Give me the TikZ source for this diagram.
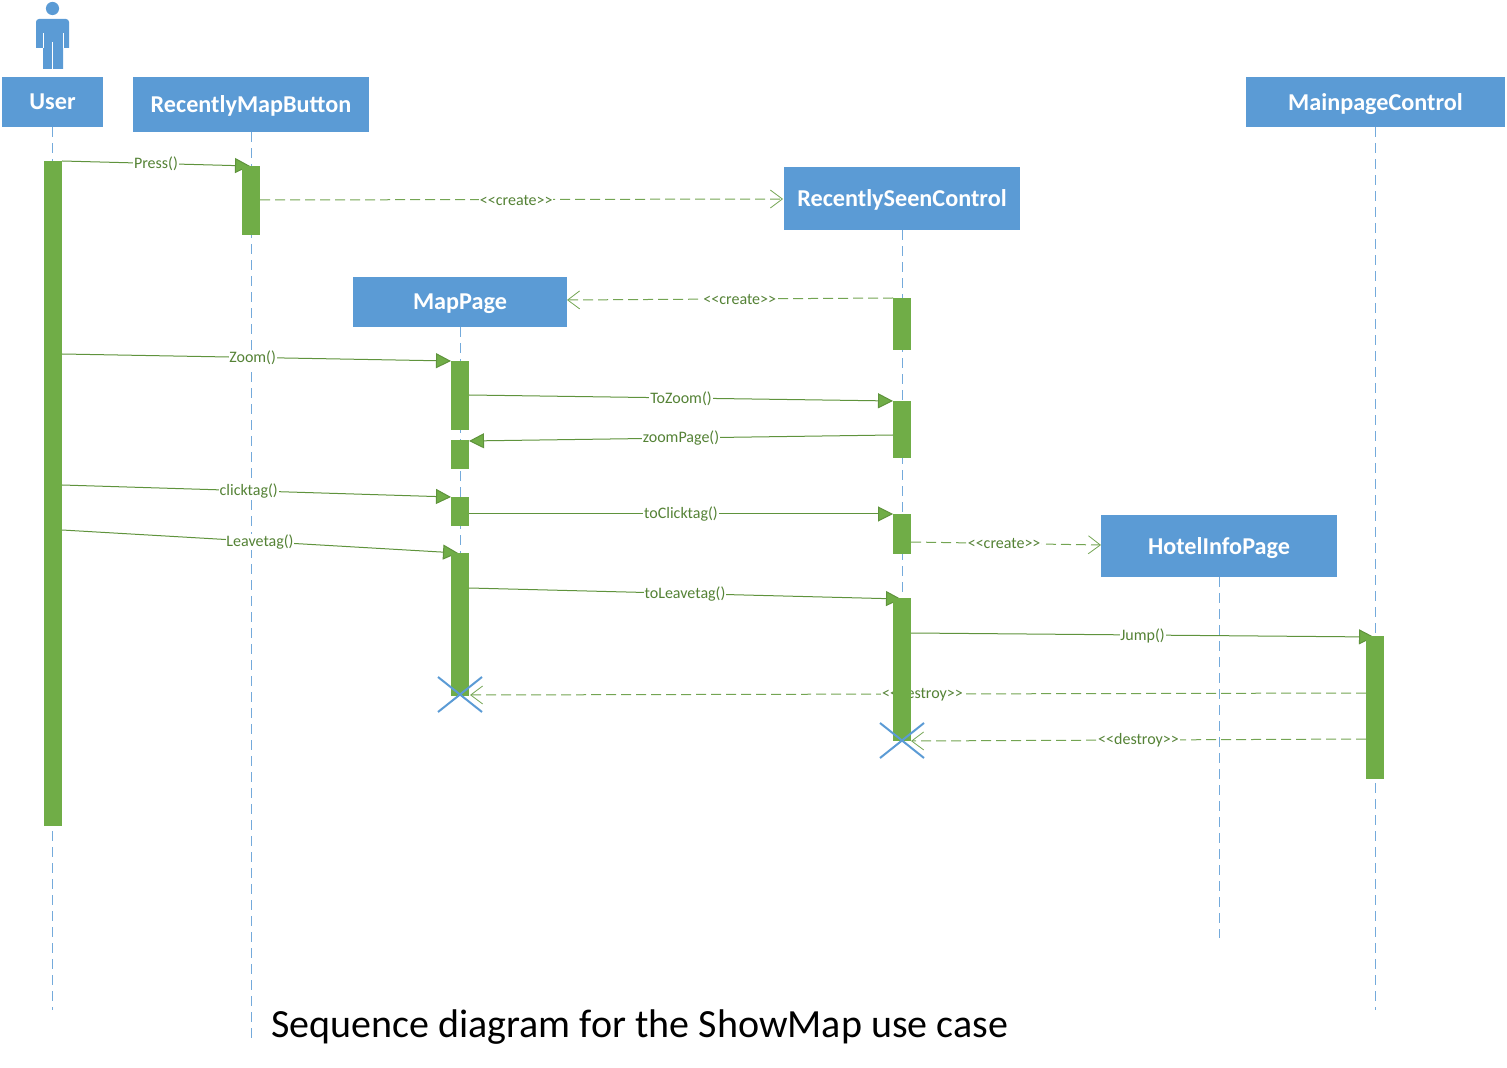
\documentclass[tikz,border=0pt]{standalone}
\usepackage{fontspec}
\setmainfont{Carlito}
\usetikzlibrary{arrows.meta}

\definecolor{headblue}{HTML}{5B9BD5}
\definecolor{bargreen}{HTML}{70AD47}
\definecolor{msgtext}{HTML}{548235}

\tikzset{
    headbox/.style={fill=headblue, text=white, inner sep=0pt, text depth=0pt, font=\fontsize{12.1}{14}\selectfont\bfseries},
    actbar/.style={fill=bargreen, inner sep=0pt, minimum width=9pt, minimum height=#1*0.5pt},
    lifeline/.style={draw=headblue!85, line width=0.45pt, dash pattern=on 5pt off 3pt},
    msglabel/.style={fill=white, inner sep=0.4pt, yshift=-0.25pt, text=msgtext, font=\fontsize{8}{9}\selectfont},
    syncmsg/.style={draw=bargreen!85!black, line width=0.5pt, -{Triangle[length=7.5pt,width=7.5pt,fill=bargreen]}},
    createmsg/.style={draw=bargreen!80!gray, line width=0.5pt, dash pattern=on 5pt off 2.5pt, -{Straight Barb[length=6pt,width=9pt,line width=0.4pt]}},
    crossline/.style={draw=headblue, line width=1pt},
}

\begin{document}
\begin{tikzpicture}[x=0.5pt, y=-0.5pt]
    \useasboundingbox (0,0) rectangle (1507,1068);

    % user figure
    \fill[headblue] (52.5,8.5) circle [radius=3.3pt];
    \fill[headblue] (36,48) -- (36,22) [rounded corners=1.5pt] -- (36,19) -- (69,19) [sharp corners] -- (69,48) -- (63,48) -- (63,69) -- (43,69) -- (43,48) -- cycle;
    \draw[white, line width=0.5pt] (43,33) -- (43,48) (63,33) -- (63,48) (52.5,42) -- (52.5,69);

    % heads
    \node[headbox, minimum width=50.5pt, minimum height=25pt] (user) at (52.5,102) {User};
    \node[headbox, minimum width=118pt, minimum height=27.5pt] (mapbutton) at (251,104.5) {RecentlyMapButton};
    \node[headbox, minimum width=129.5pt, minimum height=25pt] (mainpage) at (1375.5,102) {MainpageControl};
    \node[headbox, minimum width=118pt, minimum height=31.5pt] (seen) at (902,198.5) {RecentlySeenControl};
    \node[headbox, minimum width=107pt, minimum height=25pt] (mappage) at (460,302) {MapPage};
    \node[headbox, minimum width=118pt, minimum height=31pt] (hotel) at (1219,546) {HotelInfoPage};

    % lifeline ends
    \coordinate (userend) at (52.5,1010);
    \coordinate (buttonend) at (251,1040);
    \coordinate (seenend) at (902,740);
    \coordinate (pageend) at (460,695);
    \coordinate (hotelend) at (1219,938);
    \coordinate (mainend) at (1375.5,1010);

    \draw[lifeline] (user) -- (userend);
    \draw[lifeline] (mapbutton) -- (buttonend);
    \draw[lifeline] (seen) -- (seenend);
    \draw[lifeline] (mappage) -- (pageend);
    \draw[lifeline] (hotel) -- (hotelend);
    \draw[lifeline] (mainpage) -- (mainend);

    % message ends
    \foreach \name/\x/\y in {pressa/62/161, pressb/250/166, createa/260/200, createb/783/199,
        createc/893/298, created/567/300, zooma/62/354, zoomb/451/361,
        tozooma/469/395, tozoomb/893/401, zpagea/893/435, zpageb/469/441,
        clicka/62/485, clickb/451/497, toclicka/469/514, toclickb/893/514,
        createe/911/542, createf/1101/545, leavea/62/530, leaveb/458/553,
        toleavea/469/588, toleaveb/901/599, jumpa/911/633, jumpb/1374/637,
        destroya/1366/693, destroyb/470/695, destroyc/1366/739, destroyd/911/741}
        \coordinate (\name) at (\x,\y);

    \path
        (pressa) edge[syncmsg] node[msglabel] {Press()} (pressb)
        (zooma) edge[syncmsg] node[msglabel, pos=.49] {Zoom()} (zoomb)
        (tozooma) edge[syncmsg] node[msglabel] {ToZoom()} (tozoomb)
        (zpagea) edge[syncmsg] node[msglabel] {zoomPage()} (zpageb)
        (clicka) edge[syncmsg] node[msglabel, pos=.48] {clicktag()} (clickb)
        (toclicka) edge[syncmsg] node[msglabel] {toClicktag()} (toclickb)
        (leavea) edge[syncmsg] node[msglabel] {Leavetag()} (leaveb)
        (toleavea) edge[syncmsg] node[msglabel] {toLeavetag()} (toleaveb)
        (jumpa) edge[syncmsg] node[msglabel] {Jump()} (jumpb);
    \path
        (createa) edge[createmsg] node[msglabel, pos=.49] {<{}<create>{}>} (createb)
        (createc) edge[createmsg] node[msglabel, pos=.47] {<{}<create>{}>} (created)
        (createe) edge[createmsg] node[msglabel, pos=.49] {<{}<create>{}>} (createf)
        (destroya) edge[createmsg] node[msglabel, pos=.495] {<{}<destroy>{}>} (destroyb)
        (destroyc) edge[createmsg] node[msglabel] {<{}<destroy>{}>} (destroyd);

    % activation bars
    \node[actbar=665] (userbar) at (53,493.5) {};
    \node[actbar=69] (buttonbar) at (251,200.5) {};
    \node[actbar=52] (seenbara) at (902,324) {};
    \node[actbar=57] (seenbarb) at (902,429.5) {};
    \node[actbar=40] (seenbarc) at (902,534) {};
    \node[actbar=143] (seenbard) at (902,669.5) {};
    \node[actbar=69] (pagebara) at (460,395.5) {};
    \node[actbar=29] (pagebarb) at (460,454.5) {};
    \node[actbar=29] (pagebarc) at (460,511.5) {};
    \node[actbar=143] (pagebard) at (460,624.5) {};
    \node[actbar=143] (mainbar) at (1375,707.5) {};

    % destroy marks
    \draw[crossline] (438,677) -- (482,712) (438,712) -- (482,677);
    \draw[crossline] (880,723) -- (924,758) (880,758) -- (924,723);

    % caption
    \node[font=\fontsize{20}{23}\selectfont, anchor=base west, inner sep=0pt] (caption) at (271,1037.5) {Sequence diagram for the ShowMap use case};
\end{tikzpicture}
\end{document}
